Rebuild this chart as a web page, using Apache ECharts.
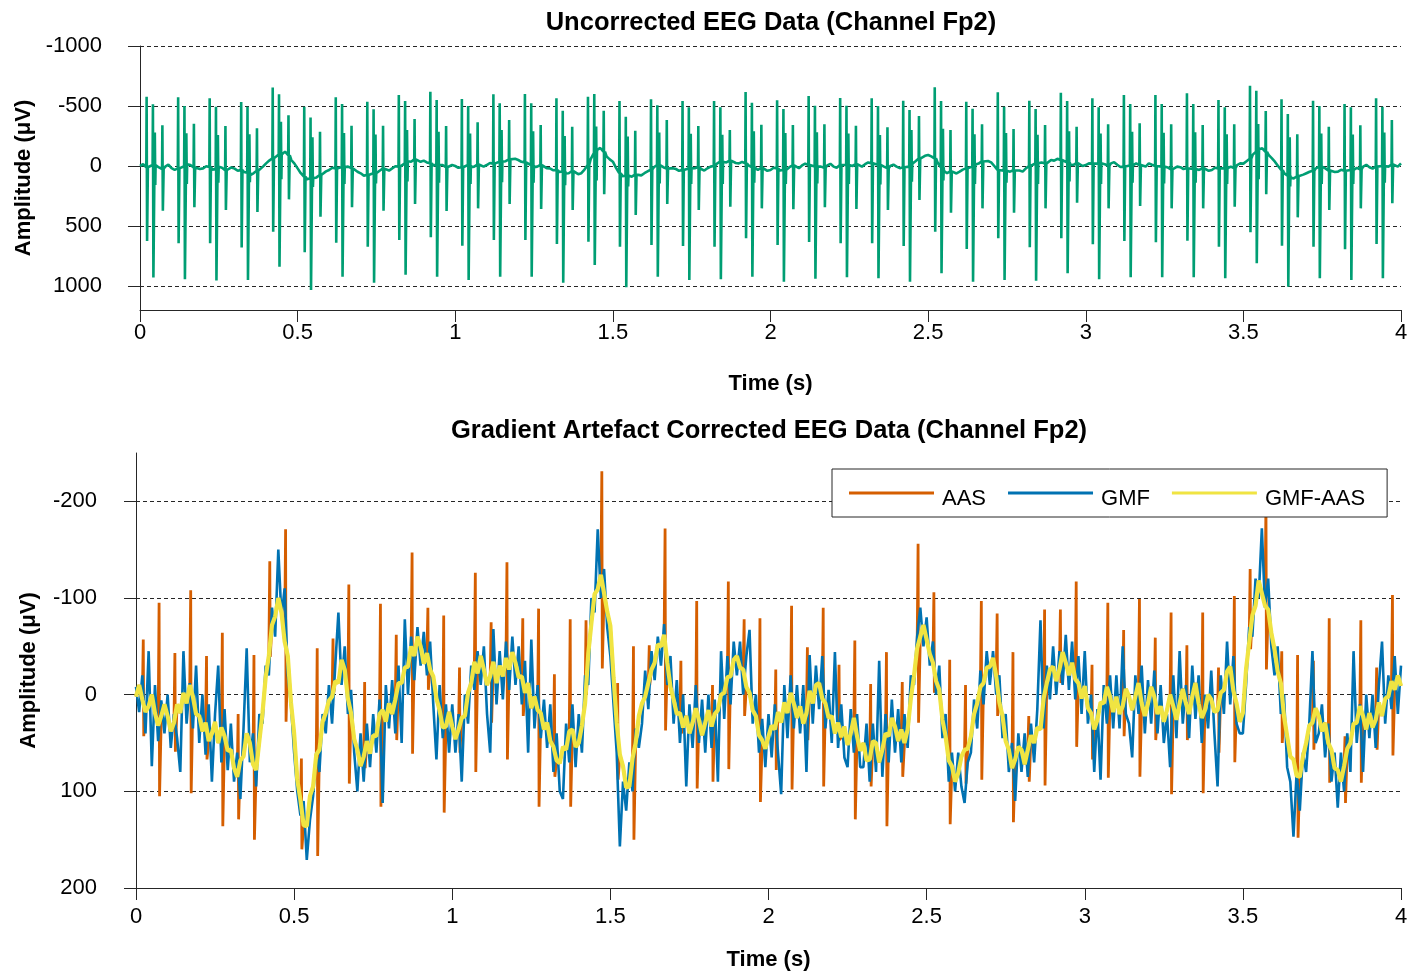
<!DOCTYPE html>
<html><head><meta charset="utf-8">
<script src="https://cdn.jsdelivr.net/npm/echarts@6/dist/echarts.min.js"></script>
<style>html,body{margin:0;padding:0;background:#fff}#c{width:1412px;height:975px}</style>
</head><body><div id="c"></div>
<script>
const FONT = '"Liberation Sans", Arial, Helvetica, sans-serif';
const topYTicks = [-1000, -500, 0, 500, 1000];
const botYTicks = [-200, -100, 0, 100, 200];
const seriesNames = ['AAS', 'GMF', 'GMF-AAS'];

// Top panel: EEG baseline between artefact spikes, every 0.01 s (µV)
const topBaseline = [
  0, -15, 10, 22, -8, -20, 12, 25, 5, -12,
  18, 32, 20, 5, 2, -15, -8, 12, 10, 25,
  20, 2, 8, 30, 25, 5, 15, 35, 30, 12,
  22, 40, 33, 50, 55, 75, 61, 40, 25, 5,
  -22, -45, -64, -80, -95, -110, -120, -90, -50, -20,
  20, 60, 89, 110, 103, 90, 95, 75, 61, 45,
  33, 15, 20, 25, 8, -8, 5, 18, 30, 48,
  61, 80, 75, 60, 61, 50, 40, 22, 30, 38,
  20, 2, 5, -10, -22, -40, -35, -55, -50, -35,
  -45, -30, -22, -5, -10, -22, -8, 10, 5, -8,
  0, 15, 10, -5, -8, 10, 5, -12, -10, 5,
  -8, -25, -20, -35, -36, -22, -40, -55, -45, -60,
  -50, -35, -30, -15, -8, 10, 5, -8, 5, 18,
  20, 35, 33, 50, 45, 62, 60, 42, 50, 68,
  60, 30, -8, -60, -110, -135, -150, -120, -80, -55,
  -36, 15, 60, 85, 80, 95, 89, 72, 70, 78,
  60, 45, 30, 10, -8, -20, 10, 22, 33, 18,
  25, 40, 33, 18, 20, 35, 19, 8, 25, 38,
  19, 5, 0, -20, -36, -22, -30, -45, -36, -25,
  -22, -35, -22, -5, 10, 25, 33, 15, 25, 40,
  33, 15, 20, 38, 33, 20, 10, -5, 5, 18,
  -5, -20, -8, 8, 5, -10, 5, 15, -5, -18,
  5, 15, -8, -20, -8, 8, 0, -15, -8, 5,
  -15, -30, -22, -8, -10, -25, 5, 18, 0, -12,
  5, 18, 10, -5, 5, -20, -40, -62, -78, -85,
  -92, -80, -64, -30, 10, 40, 60, 45, 50, 62,
  47, 30, 20, 8, 5, -12, -20, -38, -50, -42,
  -30, 0, 33, 48, 40, 28, 47, 35, 20, 38,
  47, 20, 0, -15, -22, -38, -30, -20, -36, -50,
  -45, -60, -50, -35, -30, -12, -8, -25, -15, 0,
  -8, -22, -20, -5, -22, -35, -15, -2, -22, -32,
  -10, 8, 5, -10, -5, -20, -22, -8, -10, 5,
  -22, -10, 0, 15, 5, -8, 12, 28, 19, 5,
  10, 25, 19, 8, 25, 40, 33, 18, 25, 40,
  33, 15, 20, 35, 19, 5, 5, 18, -8, -22,
  -20, -40, -60, -95, -120, -140, -147, -118, -92, -65,
  -36, 0, 33, 62, 80, 98, 103, 85, 89, 72,
  60, 48, 40, 20, 5, 15, 20, 38, 35, 50,
  47, 32, 40, 52, 33, 20, 15, 28, 5, -10,
  10, 22, 5, -10, 0, 15, 5, -12, -10, 5,
  -22
];
// Top panel: gradient artefact spikes, one group every 0.1 s (peak values, µV)
const topAUp = [-578,-572,-564,-533,-655,-494,-572,-536,-592,-619,-558,-597,-600,-564,-578,-542,-556,-542,-542,-617,-547,-583,-567,-564,-544,-656,-536,-614,-544,-611,-564,-592,-592,-606,-550,-669,-556,-544,-517,-564];
const topADn = [625,644,644,680,547,719,639,672,617,594,664,617,617,650,631,672,658,667,672,603,658,633,644,644,667,547,692,603,678,603,653,625,636,622,672,553,664,672,694,650];
const topBUp = [-514,-500,-494,-494,-597,-405,-517,-472,-542,-550,-500,-522,-522,-461,-600,-411,-506,-489,-489,-528,-475,-503,-503,-500,-467,-542,-478,-494,-475,-542,-489,-517,-517,-517,-489,-628,-433,-500,-489,-494];
const topBDn = [930,944,955,950,839,1033,922,972,906,922,950,922,922,972,825,1011,922,950,944,922,964,939,928,936,964,894,964,950,956,894,944,928,928,928,936,811,1006,936,950,936];
const topCUp = [-280,-272,-258,-265,-369,-240,-275,-262,-300,-285,-270,-300,-290,-250,-330,-245,-280,-268,-260,-290,-275,-282,-270,-258,-300,-310,-265,-275,-260,-290,-270,-285,-278,-282,-265,-350,-240,-270,-262,-280];
const topCDn = [158,150,140,135,110,175,150,145,130,140,150,135,140,160,120,170,145,150,150,140,150,145,150,155,130,120,150,140,150,130,150,140,145,140,150,110,170,150,150,140];
const topDUp = [-339,-353,-333,-314,-422,-286,-336,-336,-392,-333,-364,-383,-342,-328,-461,-294,-383,-333,-300,-344,-342,-347,-336,-322,-417,-300,-347,-308,-342,-328,-347,-356,-347,-342,-347,-458,-264,-328,-339,-383];
const topDDn = [372,344,367,383,278,422,344,372,317,375,353,317,358,367,236,408,317,367,339,353,361,344,358,367,283,389,353,389,353,306,353,333,353,353,339,236,428,367,353,311];

// Bottom panel: GMF-AAS every 0.01 s (µV)
const gmfAas = [
  2, -10, 5, 18, 12, 0, 19, 32, 22, 10,
  22, 38, 29, 10, 19, -2, 9, -10, 2, 20,
  22, 38, 29, 48, 40, 28, 50, 34, 43, 58,
  57, 76, 85, 68, 64, 40, 50, 72, 78, 48,
  19, -18, -40, -72, -81, -100, -85, -55, -40, 8,
  40, 88, 109, 135, 136, 105, 95, 62, 57, 28,
  19, 6, 2, -14, -12, -36, -26, 4, 19, 46,
  57, 74, 64, 48, 61, 42, 43, 20, 16, 28,
  9, 20, 5, -12, -12, -28, -29, -50, -40, -60,
  -50, -32, -43, -26, -19, 4, 16, 34, 33, 18,
  33, 46, 36, 24, 22, -2, -12, -34, -22, -40,
  -26, -10, -19, -34, -12, -30, -19, -38, -26, -44,
  -33, -18, -19, -2, -12, 14, 2, 16, 19, 36,
  29, 48, 54, 68, 71, 54, 57, 38, 36, 54,
  50, 32, 9, -42, -74, -104, -109, -124, -105, -86,
  -71, -18, 29, 62, 74, 96, 95, 66, 50, 22,
  9, 2, -12, -26, -33, -52, -50, -62, -33, -8,
  5, 20, 19, 34, 22, 40, 29, 14, 26, 42,
  29, 16, 33, 20, 16, 0, -2, -18, -19, -36,
  -40, -28, -26, -8, -2, 16, 22, 42, 47, 56,
  43, 32, 36, 18, 29, 8, 19, -2, 9, 24,
  12, 30, 19, -4, 9, -10, -12, 4, 9, 24,
  22, 40, 29, 44, 33, 52, 40, 24, 43, 58,
  50, 68, 67, 48, 50, 70, 57, 40, 43, 24,
  33, 48, 36, 50, 36, 4, -19, -48, -60, -72,
  -57, -42, -33, -14, -5, 26, 43, 68, 74, 90,
  81, 64, 57, 56, 43, 20, 9, -8, -12, -28,
  -29, -38, -19, 8, 22, 48, 57, 76, 67, 54,
  57, 72, 57, 42, 50, 34, 36, 4, -12, -26,
  -29, -14, -26, -44, -33, -20, -33, -16, -12, 4,
  -9, 14, 19, 36, 26, 8, 9, -8, 2, 18,
  2, 20, 12, -6, 2, 16, 2, -12, 9, 22,
  9, -8, 2, 20, 12, 28, 16, 0, 12, 26,
  9, -6, 9, 20, 2, -12, 9, 24, 16, 0,
  5, 18, 16, -2, -5, -24, -29, -4, 9, 28,
  19, -26, -54, -82, -92, -118, -105, -92, -88, -64,
  -47, -24, -12, 22, 43, 64, 67, 84, 85, 64,
  50, 32, 29, 14, 22, 38, 29, 50, 57, 76,
  78, 90, 74, 56, 50, 30, 29, 12, 22, 36,
  19, 34, 26, 8, 22, 4, 2, -14, -5, -20,
  -9
];
// Bottom panel: GMF every 0.01 s (µV)
const gmf = [
  -8, 18, -20, 40, -45, 74, -10, 48, 6, 40,
  0, 55, 20, 45, 80, -45, 30, -12, 35, -30,
  50, 0, 62, 10, 90, 20, -30, 70, 15, 78,
  30, 90, 60, 108, 35, -48, 70, 40, 95, 20,
  30, -30, -20, -90, -60, -150, -80, -110, -20, 10,
  60, 100, 125, 110, 171, 130, 105, 60, 80, 20,
  40, -10, 30, -30, -85, -10, -50, 20, -5, 60,
  100, 40, 90, 30, 75, 20, 60, 5, 112, -10,
  35, -15, 40, -30, 50, -78, 0, -60, -15, -70,
  -30, -65, -20, -55, 10, 67, -10, 45, 10, 60,
  10, 60, 20, 90, 0, 30, -30, -5, -45, -10,
  -50, 20, 60, -68, 10, -45, 5, -55, -5, -60,
  -10, -50, 10, -35, 60, -57, 35, -10, 45, 5,
  55, 10, 80, 40, 100, 108, 30, 70, 10, 75,
  20, 60, -20, -10, -100, -85, -171, -100, -130, -70,
  -40, 10, 60, 157, 90, 120, 70, 100, 35, 55,
  30, -25, 15, -45, -15, -60, -30, -73, -10, -40,
  30, -15, 50, 0, 95, 10, 55, -10, 50, 5,
  60, 0, 55, 5, 90, -45, 25, -40, 10, -55,
  -20, -55, 0, -40, -67, 30, 0, 60, 25, 75,
  20, 65, 10, 60, 103, -10, 45, -20, 35, -10,
  40, -10, 80, -41, 30, -30, 15, -40, 35, -5,
  50, -44, 55, 10, 65, 75, 15, 60, 20, 75,
  75, 30, 90, 30, 80, -35, 85, 20, 70, 5,
  60, 15, 70, 20, 55, -20, -10, -60, -90, -50,
  -80, -30, -55, 0, -30, 45, 20, 90, 60, 100,
  60, 95, 112, 70, 60, 5, 35, -25, 10, -45,
  -10, -45, 0, -20, 45, 20, 80, 50, 110, 40,
  80, 40, 85, 30, 70, 15, -77, 35, -30, 5,
  -50, 0, -45, -10, -62, -5, -55, 5, -40, 20,
  -45, 30, 0, 80, 15, 88, -10, 30, -20, 35,
  -20, 35, -50, 20, 30, 65, -20, 20, -30, 40,
  -15, 30, -25, 40, -10, 50, 20, 75, -20, 45,
  -45, 30, -10, 45, -30, 25, -20, 50, 0, 35,
  -25, 40, 95, -20, 20, -55, 10, -40, 30, 40,
  40, -10, -70, -60, -120, -100, -172, -90, -120, -50,
  -20, -50, 20, 0, 75, 90, 147, 80, 120, 60,
  80, 30, -45, 50, 40, 10, 65, 30, 90, 60,
  117, 60, 100, 40, 80, -45, 50, 10, 80, 0,
  45, 0, 55, -10, -55, 30, -20, 15, -40, 20,
  -30
];
// Bottom panel: AAS residual spikes, one every 0.05 s (extreme values, µV)
const aasSpikeUp = [
  -57,-95,-43,-108,-40,-64,20,-41,-138,-171,
  66,-48,-58,-114,-13,-94,-62,-147,-90,-82,
  -28,-126,-75,-137,-79,-89,-21,-78,-77,-231,
  -12,-50,-51,-172,-35,-97,-10,-117,-78,-79,
  -26,-92,-49,-90,-31,-56,-11,-44,-13,-156,
  -106,-36,-10,-97,-84,-44,22,-88,-88,-117,
  -31,-95,-67,-99,-59,-85,-51,-85,-28,-102,
  -130,-200,-45,-41,-35,-79,43,-77,-28,-103
];
const aasSpikeDown = [
  43,105,59,102,67,136,129,150,-39,28,
  160,167,0,92,76,116,47,61,-5,122,
  60,80,29,67,22,116,85,116,0,-27,
  88,150,-10,37,40,97,90,77,22,111,
  78,98,47,95,47,129,95,136,85,29,
  -2,134,92,88,22,132,90,94,-12,54,
  67,86,43,85,47,103,47,102,60,70,
  -47,-26,50,148,57,91,112,91,57,63
];

// ---- build series data ----
const DT = 0.01;
const byTime = (a, b) => a[0] - b[0];
const topData = topBaseline.map((v, i) => [i * DT, v]);
const basePrev = t => topBaseline[Math.min(topBaseline.length - 1, Math.floor(t / DT + 1e-9))];
for (let g = 0; g < topAUp.length; g++) {
  const t0 = 0.021 + 0.1 * g;
  topData.push([t0, topAUp[g]], [t0 + 0.0015, topADn[g]], [t0 + 0.004, basePrev(t0)]);
  const tb = t0 + 0.020;
  topData.push([tb, topBUp[g]], [tb + 0.0015, topBDn[g]], [tb + 0.006, topCUp[g]], [tb + 0.0075, topCDn[g]], [tb + 0.0085, basePrev(tb)]);
  const td = t0 + 0.050;
  topData.push([td, topDUp[g]], [td + 0.0015, topDDn[g]], [td + 0.004, basePrev(td)]);
}
topData.sort(byTime);

const gmfAasData = gmfAas.map((v, i) => [i * DT, v]);
const gmfData = gmf.map((v, i) => [i * DT, v]);
const aasData = gmfAas.map((v, i) => [i * DT, v]);
for (let k = 0; k < aasSpikeUp.length; k++) {
  const t = 0.023 + 0.05 * k;
  aasData.push([t, aasSpikeUp[k]], [t + 0.0015, aasSpikeDown[k]]);
}
aasData.sort(byTime);

const INK = '#262626';
const tickLabel = { fontSize: 22, color: '#000', fontFamily: FONT };
const axisNameStyle = { fontSize: 22, fontWeight: 'bold', color: '#000', fontFamily: FONT };
const dash = { type: [4, 3], color: INK, width: 1 };
// legend key: a 3px bar at the top of a 15px-high key box (text sits a little lower, as in the reference)
const LEGEND_KEY = 'path://M0,0H85V3H0Z M0,15H0.1V15.1H0Z';

function xAxisCfg(gi, margin, gap) {
  return {
    gridIndex: gi, type: 'value', min: 0, max: 4, interval: 0.5,
    axisLine: { show: true, onZero: false, lineStyle: { color: INK, width: 1 } },
    axisTick: { show: true, inside: false, length: 12, lineStyle: { color: INK, width: 1 } },
    axisLabel: Object.assign({ margin: margin }, tickLabel),
    splitLine: { show: false },
    name: 'Time (s)', nameLocation: 'middle', nameGap: gap, nameTextStyle: axisNameStyle
  };
}
function yAxisCfg(gi, min, max, interval, ticks, margin, gap) {
  return {
    gridIndex: gi, type: 'value', inverse: true, min: min, max: max, interval: interval,
    axisLine: { show: true, onZero: false, lineStyle: { color: INK, width: 1 } },
    axisTick: { show: true, inside: false, length: 12, customValues: ticks, lineStyle: { color: INK, width: 1 } },
    axisLabel: Object.assign({ margin: margin, customValues: ticks,
      formatter: v => (ticks.indexOf(v) >= 0 ? String(v) : '') }, tickLabel),
    splitLine: { show: true, lineStyle: dash },
    name: 'Amplitude (μV)', nameLocation: 'middle', nameGap: gap, nameTextStyle: axisNameStyle
  };
}

const chart = echarts.init(document.getElementById('c'), null, { renderer: 'canvas' });
chart.setOption({
  animation: false,
  backgroundColor: '#fff',
  textStyle: { fontFamily: FONT },
  title: [
    { text: 'Uncorrected EEG Data (Channel Fp2)', left: 771, top: 10, textAlign: 'center', padding: 0,
      textStyle: { fontSize: 25.5, fontWeight: 'bold', color: '#000', fontFamily: FONT } },
    { text: 'Gradient Artefact Corrected EEG Data (Channel Fp2)', left: 769, top: 418, textAlign: 'center', padding: 0,
      textStyle: { fontSize: 25.5, fontWeight: 'bold', color: '#000', fontFamily: FONT } }
  ],
  legend: {
    data: seriesNames.map(n => ({ name: n, icon: LEGEND_KEY })),
    symbolKeepAspect: false,
    left: 832, top: 469, orient: 'horizontal',
    padding: [19, 22, 7, 17], itemGap: 22, itemWidth: 85, itemHeight: 15,
    backgroundColor: '#fff', borderColor: INK, borderWidth: 1, borderRadius: 0,
    textStyle: { fontSize: 22, color: '#000', fontFamily: FONT, padding: [0, 0, 0, 3] },
    z: 10, selectedMode: false
  },
  grid: [
    { left: 140, right: 11, top: 46, height: 264, outerBoundsMode: 'none', containLabel: false },
    { left: 136, right: 11, top: 453, height: 435, outerBoundsMode: 'none', containLabel: false }
  ],
  xAxis: [xAxisCfg(0, 12, 63), xAxisCfg(1, 18, 61)],
  yAxis: [
    yAxisCfg(0, -1000, 1200, 500, topYTicks, 38, 101),
    yAxisCfg(1, -250, 200, 50, botYTicks, 39, 96)
  ],
  series: [
    { name: 'Fp2', type: 'line', xAxisIndex: 0, yAxisIndex: 0, data: topData,
      showSymbol: false, symbol: 'none', silent: true,
      lineStyle: { color: '#009E73', width: 2.6 }, itemStyle: { color: '#009E73' } },
    { name: seriesNames[0], type: 'line', xAxisIndex: 1, yAxisIndex: 1, data: aasData,
      showSymbol: false, symbol: 'none', silent: true,
      lineStyle: { color: '#D55E00', width: 2.8 }, itemStyle: { color: '#D55E00' } },
    { name: seriesNames[1], type: 'line', xAxisIndex: 1, yAxisIndex: 1, data: gmfData,
      showSymbol: false, symbol: 'none', silent: true,
      lineStyle: { color: '#0072B2', width: 2.6 }, itemStyle: { color: '#0072B2' } },
    { name: seriesNames[2], type: 'line', xAxisIndex: 1, yAxisIndex: 1, data: gmfAasData,
      showSymbol: false, symbol: 'none', silent: true,
      lineStyle: { color: '#F0E442', width: 4.2 }, itemStyle: { color: '#F0E442' } }
  ]
});
</script></body></html>
